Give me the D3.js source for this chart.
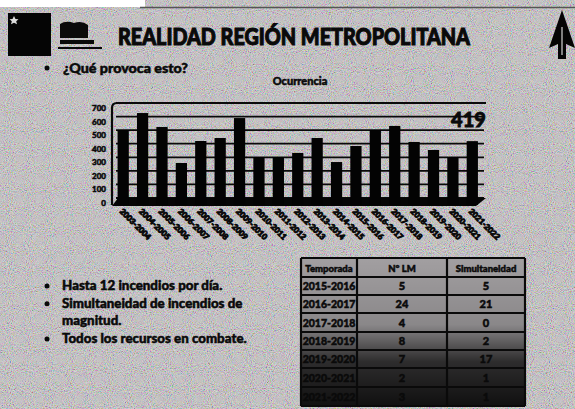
<!DOCTYPE html>
<html>
<head>
<meta charset="utf-8">
<script src="https://cdn.jsdelivr.net/npm/d3@7/dist/d3.min.js"></script>
<style>
  body { margin: 0; background: #c8c4c7; }
  svg { display: block; font-family: Lato, "Open Sans", "Liberation Sans", sans-serif; }
  .ink { fill: #0a0a0a; stroke: #0a0a0a; stroke-width: 0.5px; font-weight: 900; }
</style>
</head>
<body>
<div id="slide"></div>
<script>
// Ocurrencia por temporada
const seasons = ["2003-2004", "2004-2005", "2005-2006", "2006-2007", "2007-2008", "2008-2009",
  "2009-2010", "2010-2011", "2011-2012", "2012-2013", "2013-2014", "2014-2015", "2015-2016",
  "2016-2017", "2017-2018", "2018-2019", "2019-2020", "2020-2021", "2021-2022"];
const ocurrencia = [501, 626, 523, 258, 420, 442, 589, 302, 302, 332, 442, 265, 383, 501, 531, 413, 354, 302, 419];
const yTicks = [0, 100, 200, 300, 400, 500, 600, 700];

// Tabla de la derecha
const tablaHeader = ["Temporada", "N° LM", "Simultaneidad"];
const tablaTemporadas = ["2015-2016", "2016-2017", "2017-2018", "2018-2019", "2019-2020", "2020-2021", "2021-2022"];
const tablaLM = [5, 24, 4, 8, 7, 2, 3];
const tablaSimult = [5, 21, 0, 2, 17, 1, 1];

const bullets = [["Hasta 12 incendios por día."], ["Simultaneidad de incendios de", "magnitud."], ["Todos los recursos en combate."]];

const W = 575, H = 409;
const svg = d3.select("#slide").append("svg").attr("width", W).attr("height", H);

// scan grain
const defs = svg.append("defs");
const grain = defs.append("filter").attr("id", "grain").attr("x", 0).attr("y", 0).attr("width", "100%").attr("height", "100%");
grain.append("feTurbulence").attr("type", "fractalNoise").attr("baseFrequency", 0.95).attr("numOctaves", 2).attr("seed", 4);
grain.append("feColorMatrix").attr("type", "matrix")
  .attr("values", "1.8 0 0 0 -0.4  0 1.8 0 0 -0.4  0 0 1.8 0 -0.4  0 0 0 0 0.4");

const tableShade = defs.append("linearGradient").attr("id", "tshade").attr("x1", 0).attr("y1", 0).attr("x2", 0).attr("y2", 1);
tableShade.append("stop").attr("offset", "0%").attr("stop-color", "#000").attr("stop-opacity", 0);
tableShade.append("stop").attr("offset", "45%").attr("stop-color", "#000").attr("stop-opacity", 0.15);
tableShade.append("stop").attr("offset", "70%").attr("stop-color", "#000").attr("stop-opacity", 0.72);
tableShade.append("stop").attr("offset", "100%").attr("stop-color", "#000").attr("stop-opacity", 0.9);

svg.append("rect").attr("width", W).attr("height", H).attr("fill", "#c8c4c7");
svg.append("rect").attr("width", W).attr("height", H).attr("filter", "url(#grain)");
svg.append("rect").attr("width", 145).attr("height", 7).attr("fill", "#fff");
svg.append("line").attr("x1", 140).attr("x2", W).attr("y1", 7.5).attr("y2", 7.5)
  .attr("stroke", "#555").attr("stroke-width", 1.5);

// header logos
svg.append("rect").attr("x", 8).attr("y", 13).attr("width", 43).attr("height", 43).attr("fill", "#050505");
svg.append("path").attr("d", "M14,16 l1.5,3 3,0.3 -2.3,2 0.8,3 -3,-1.6 -3,1.6 0.8,-3 -2.3,-2 3,-0.3z")
  .attr("fill", "#ddd");
const logo = svg.append("g").attr("transform", "translate(58,20)");
logo.append("path").attr("d", "M2,4 Q8,0 16,3 Q24,0 30,5 L30,18 L2,18 Z").attr("fill", "#0a0a0a");
logo.append("rect").attr("x", 2).attr("y", 20).attr("width", 34).attr("height", 4).attr("fill", "#0a0a0a");
logo.append("rect").attr("x", 0).attr("y", 27).attr("width", 44).attr("height", 2).attr("fill", "#0a0a0a");

svg.append("text").attr("class", "ink").attr("x", 118).attr("y", 45)
  .attr("font-size", 23).style("stroke-width", "1.1px")
  .attr("textLength", 352).attr("lengthAdjust", "spacingAndGlyphs")
  .text("REALIDAD REGIÓN METROPOLITANA");

svg.append("path").attr("d", "M562,10 L575,48 L566,44 L566,59 L558,59 L558,44 L549,48 Z").attr("fill", "#050505");
svg.append("path").attr("d", "M562,27 L562,55").attr("stroke", "#aaa").attr("stroke-width", 1.5);

// question bullet
svg.append("circle").attr("cx", 47).attr("cy", 68).attr("r", 2.5).attr("fill", "#0a0a0a");
svg.append("text").attr("class", "ink").attr("x", 63).attr("y", 73).attr("font-size", 13)
  .attr("textLength", 125).attr("lengthAdjust", "spacingAndGlyphs")
  .text("¿Qué provoca esto?");

// ---- chart ----
const floorY = 205;
const yWall = d3.scaleLinear().domain([0, 700]).range([198, 103]);
const x = d3.scaleBand().domain(seasons).range([113.5, 482]).paddingInner(0.42).paddingOuter(0.21);

svg.append("text").attr("class", "ink").attr("x", 300).attr("y", 85).attr("text-anchor", "middle")
  .attr("font-size", 11).text("Ocurrencia");

const chart = svg.append("g");

chart.selectAll("line.grid")
  .data(yTicks)
  .enter().append("line")
  .attr("class", "grid")
  .attr("x1", 116).attr("x2", 484)
  .attr("y1", d => yWall(d)).attr("y2", d => yWall(d))
  .attr("stroke", "#0a0a0a").attr("stroke-width", 1.8);

chart.append("path")
  .attr("d", `M112,${floorY} V108 Q112,103 117,103 H486`)
  .attr("fill", "none").attr("stroke", "#0a0a0a").attr("stroke-width", 2.2);

chart.append("polygon")
  .attr("points", `112,${floorY + 1} 476,${floorY + 1} 486,${yWall(0)} 118,${yWall(0)}`)
  .attr("fill", "#050505");

const yAxis = d3.axisLeft(yWall).tickValues(yTicks).tickSize(0).tickPadding(0);
chart.append("g")
  .attr("transform", "translate(106,5)")
  .call(yAxis)
  .call(g => g.select(".domain").remove())
  .selectAll("text")
  .attr("class", "ink").attr("font-size", 8)
  .style("font-family", "Lato, sans-serif");

chart.selectAll("rect.bar")
  .data(ocurrencia)
  .enter().append("rect")
  .attr("class", "bar")
  .attr("x", (d, i) => x(seasons[i]))
  .attr("y", d => yWall(d))
  .attr("width", x.bandwidth())
  .attr("height", d => floorY - yWall(d))
  .attr("fill", "#030303");

const last = seasons.length - 1;
chart.append("text")
  .attr("x", x(seasons[last]) + x.bandwidth() + 8)
  .attr("y", yWall(ocurrencia[last]) - 14)
  .attr("text-anchor", "end")
  .attr("font-size", 20).attr("font-weight", 900).attr("fill", "#0a0a0a")
  .attr("stroke", "#0a0a0a").attr("stroke-width", 0.8)
  .text(ocurrencia[last]);

chart.selectAll("text.season")
  .data(seasons)
  .enter().append("text")
  .attr("class", "season ink")
  .attr("transform", d => `translate(${x(d) + x.bandwidth() / 2 - 4},${floorY + 7}) rotate(45)`)
  .attr("font-size", 8).style("stroke-width", "0.9px")
  .text(d => d);

// ---- bullet list ----
let lineY = 290;
bullets.forEach(lines => {
  svg.append("circle").attr("cx", 47).attr("cy", lineY - 4).attr("r", 2.5).attr("fill", "#0a0a0a");
  lines.forEach(t => {
    svg.append("text").attr("class", "ink").attr("x", 62).attr("y", lineY)
      .attr("font-size", 13.3).text(t);
    lineY += 17.7;
  });
});

// ---- table ----
const colX = [301, 357, 447, 525];
const rowY = [258, 277, 295, 313, 332, 350, 368, 387, 406];
const table = svg.append("g");
const rows = [tablaHeader].concat(tablaTemporadas.map((t, i) => [t, tablaLM[i], tablaSimult[i]]));

table.append("rect").attr("x", colX[0]).attr("y", rowY[0])
  .attr("width", colX[3] - colX[0]).attr("height", rowY[8] - rowY[0]).attr("fill", "#a29fa1");
table.append("rect").attr("x", colX[0]).attr("y", rowY[0])
  .attr("width", colX[3] - colX[0]).attr("height", rowY[8] - rowY[0]).attr("fill", "url(#tshade)");

rows.forEach((r, ri) => {
  r.forEach((v, ci) => {
    table.append("text")
      .attr("class", "ink")
      .attr("x", (colX[ci] + colX[ci + 1]) / 2)
      .attr("y", (rowY[ri] + rowY[ri + 1]) / 2 + 4)
      .attr("text-anchor", "middle")
      .attr("font-size", ri === 0 ? 9.5 : (ci === 0 ? 10.5 : 11))
      .text(v);
  });
});

table.selectAll("line.h").data(rowY).enter().append("line")
  .attr("x1", colX[0]).attr("x2", colX[3]).attr("y1", d => d).attr("y2", d => d)
  .attr("stroke", "#0a0a0a").attr("stroke-width", 2.2);
table.selectAll("line.v").data(colX).enter().append("line")
  .attr("y1", rowY[0]).attr("y2", rowY[8]).attr("x1", d => d).attr("x2", d => d)
  .attr("stroke", "#0a0a0a").attr("stroke-width", 2.2);
</script>
</body>
</html>
